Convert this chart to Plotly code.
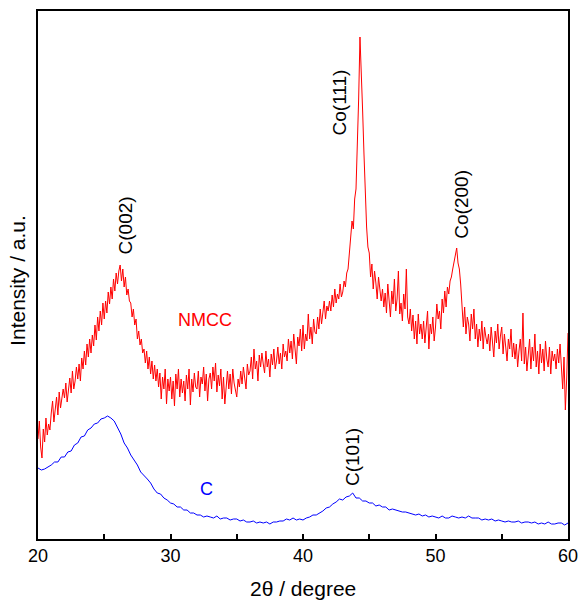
import numpy as np
import plotly.graph_objects as go

# 2theta grids (degrees)
two_theta_nmcc = [round(20 + 0.1 * i, 1) for i in range(401)]
two_theta_c = [round(20 + 0.25 * i, 2) for i in range(161)]

# NMCC intensity (a.u.), 0.1 degree steps
nmcc = [
    100, 118, 92, 81, 110, 97, 121, 104, 115, 109,
    126, 138, 117, 133, 142, 124, 147, 131, 139, 150,
    141, 156, 137, 152, 161, 146, 168, 150, 158, 172,
    160, 175, 158, 181, 170, 188, 174, 195, 182, 200,
    186, 204, 193, 214, 199, 222, 208, 228, 214, 236,
    220, 238, 226, 247, 235, 252, 240, 260, 248, 266,
    255, 268, 274, 258, 270, 252, 262, 244, 250, 238,
    236, 222, 230, 214, 220, 200, 208, 194, 200, 186,
    190, 176, 188, 170, 182, 165, 178, 160, 174, 158,
    170, 152, 166, 140, 162, 150, 170, 135, 160, 148,
    162, 140, 158, 133, 165, 150, 170, 142, 160, 146,
    158, 138, 164, 150, 170, 134, 160, 147, 166, 152,
    150, 168, 142, 162, 155, 172, 148, 165, 138, 160,
    166, 150, 172, 158, 176, 147, 164, 153, 170, 140,
    162, 135, 158, 168, 150, 165, 145, 170, 156, 150,
    142, 160, 152, 168, 155, 172, 160, 150, 175, 164,
    168, 182, 160, 190, 170, 178, 158, 184, 172, 186,
    175, 166, 188, 172, 180, 162, 185, 174, 190, 170,
    178, 192, 175, 186, 170, 195, 182, 188, 178, 200,
    186, 198, 180, 205, 190, 175, 202, 193, 210, 188,
    214, 190, 205, 198, 225, 200, 212, 195, 220, 207,
    205, 222, 210, 230, 215, 226, 238, 220, 233, 228,
    238, 228, 244, 232, 250, 236, 245, 240, 255, 242,
    247, 258, 252, 266, 270, 286, 305, 318, 310, 340,
    350, 392, 440, 502, 470, 428, 386, 342, 312, 292,
    286, 262, 275, 250, 268, 256, 240, 262, 248, 238,
    250, 232, 246, 226, 255, 238, 222, 248, 235, 260,
    228, 240, 268, 225, 236, 218, 245, 230, 270, 222,
    215, 230, 208, 224, 200, 218, 195, 225, 205, 215,
    200, 218, 196, 212, 228, 190, 215, 205, 222, 198,
    212, 235, 220, 228, 210, 240, 226, 248, 232, 252,
    245, 258, 262, 270, 278, 284, 291, 276, 270, 255,
    228, 212, 232, 205, 222, 215, 198, 225, 210, 230,
    200, 215, 192, 210, 198, 218, 190, 212, 202, 195,
    205, 188, 212, 195, 182, 208, 196, 215, 190, 203,
    212, 185, 205, 192, 178, 200, 190, 210, 182, 196,
    180, 195, 172, 188, 200, 178, 226, 175, 192, 168,
    185, 200, 170, 192, 178, 205, 172, 188, 165, 195,
    176, 190, 168, 198, 180, 172, 192, 165, 188, 178,
    185, 170, 190, 176, 195, 168, 150, 182, 129, 160,
    206,
]

# C intensity (a.u.), 0.25 degree steps
carbon = [
    71, 69, 70, 72,
    74, 77, 77, 82,
    82, 87, 88, 94,
    96, 102, 103, 109,
    111, 115, 116, 120,
    121, 123, 121, 118,
    111, 105, 96, 91,
    84, 79, 74, 67,
    64, 60, 56, 50,
    46, 45, 41, 39,
    36, 35, 32, 32,
    29, 29, 26, 26,
    24, 24, 22, 23,
    22, 21, 23, 20,
    21, 21, 19, 20,
    20, 18, 19, 17,
    17, 18, 16, 17,
    16, 17, 15, 17,
    17, 18, 18, 20,
    19, 21, 19, 20,
    19, 21, 22, 24,
    24, 26, 28, 31,
    32, 35, 37, 40,
    39, 42, 43, 46,
    41, 41, 38, 38,
    36, 36, 33, 34,
    32, 32, 29, 30,
    29, 28, 27, 27,
    26, 25, 24, 25,
    23, 24, 22, 23,
    22, 21, 23, 21,
    21, 23, 22, 21,
    22, 21, 23, 21,
    21, 21, 19, 20,
    19, 20, 18, 19,
    18, 17, 18, 17,
    17, 18, 16, 17,
    17, 16, 17, 15,
    16, 15, 17, 15,
    15, 16, 16, 14,
    16,
]

tick_vals = [20, 25, 30, 35, 40, 45, 50, 55, 60]
tick_text = ["20", "", "30", "", "40", "", "50", "", "60"]

peak_labels = ["C(002)", "Co(111)", "Co(200)", "C(101)"]
peak_x = [26.6, 42.75, 51.9, 43.7]
peak_y = [314, 437, 335, 82]

FONT = "Liberation Sans, Arial, sans-serif"

fig = go.Figure()
fig.add_trace(go.Scatter(x=two_theta_nmcc, y=nmcc, mode="lines",
                         line=dict(color="#ff0000", width=1), showlegend=False))
fig.add_trace(go.Scatter(x=two_theta_c, y=carbon, mode="lines",
                         line=dict(color="#0000ff", width=1), showlegend=False))

for lab, px, py in zip(peak_labels, peak_x, peak_y):
    fig.add_annotation(x=px, y=py, text=lab, textangle=-90, showarrow=False,
                       font=dict(family=FONT, size=19, color="black"),
                       xanchor="center", yanchor="middle")

fig.add_annotation(x=32.6, y=219, text="NMCC", showarrow=False,
                   font=dict(family=FONT, size=18, color="#ff0000"))
fig.add_annotation(x=32.7, y=50, text="C", showarrow=False,
                   font=dict(family=FONT, size=18, color="#0000ff"))

# axis titles as paper-anchored annotations for precise placement
fig.add_annotation(xref="paper", yref="paper", x=0.5, y=-0.094,
                   text="2θ / degree", showarrow=False,
                   xanchor="center", yanchor="middle",
                   font=dict(family=FONT, size=21, color="black"))
fig.add_annotation(xref="paper", yref="paper", x=-0.0385, y=0.49,
                   text="Intensity / a.u.", textangle=-90, showarrow=False,
                   xanchor="center", yanchor="middle",
                   font=dict(family=FONT, size=21, color="black"))

fig.update_layout(
    width=579, height=600, autosize=False,
    margin=dict(l=38, r=11, t=11, b=61, autoexpand=False),
    plot_bgcolor="white", paper_bgcolor="white",
    font=dict(family=FONT, size=17, color="black"),
    xaxis=dict(range=[20, 60], tickvals=tick_vals, ticktext=tick_text,
               ticks="inside", ticklen=5, tickwidth=1.5, tickcolor="black",
               showline=True, linecolor="black", linewidth=1.5, mirror=True,
               showgrid=False, zeroline=False, automargin=False,
               tickfont=dict(family=FONT, size=18)),
    yaxis=dict(range=[0, 528], showticklabels=False, ticks="",
               showline=True, linecolor="black", linewidth=1.5, mirror=True,
               showgrid=False, zeroline=False, automargin=False),
)

fig.write_html("out.html")
